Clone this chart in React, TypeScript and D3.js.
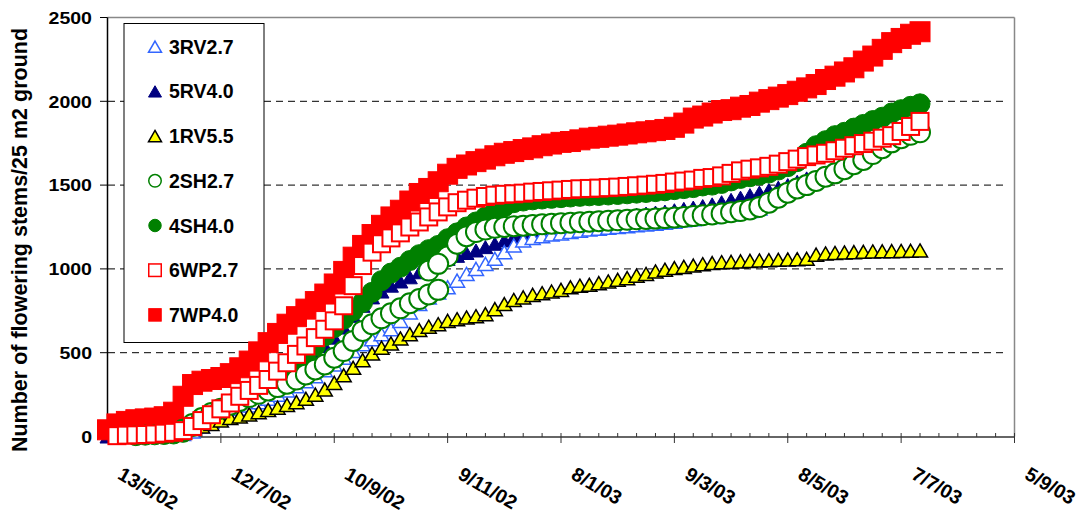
import React from 'react'
import * as d3 from 'd3'

// x axis: 13/5/02 .. 5/9/03, ticks every 60 days
const startDate = new Date(Date.UTC(2002, 4, 13))
const endDate = new Date(Date.UTC(2003, 8, 5))
const tickLabels = ['13/5/02', '12/7/02', '10/9/02', '9/11/02', '8/1/03', '9/3/03', '8/5/03', '7/7/03', '5/9/03']
const yTicks = [0, 500, 1000, 1500, 2000, 2500]

// sampling days (days after 13/5/02) for every series below
const sampleDays = d3.range(0, 431, 5)

const rv27 = [null, 0, 0, 2, 4, 6, 8, 10, 15, 30, 60, 90, 118, 142, 165, 185, 205, 225, 250, 275, 300, 330, 360, 395, 430, 470, 510, 550, 580, 610, 640, 690, 740, 790, 830, 860, 890, 930, 970, 1000, 1030, 1060, 1100, 1140, 1170, 1185, 1195, 1205, 1212, 1220, 1228, 1235, 1240, 1245, 1250, 1255, 1260, 1265, 1270, 1275, 1282, 1290, 1297, 1305, 1310, 1318, 1325, 1335, 1345, 1360]
const rv40 = [0, 0, 2, 4, 6, 8, 10, 14, 22, 50, 90, 125, 155, 180, 205, 230, 255, 285, 330, 375, 415, 455, 495, 540, 590, 650, 720, 780, 830, 865, 900, 925, 950, 980, 1015, 1040, 1060, 1078, 1095, 1110, 1130, 1150, 1170, 1190, 1210, 1228, 1242, 1255, 1265, 1275, 1285, 1293, 1300, 1307, 1313, 1318, 1324, 1330, 1336, 1342, 1350, 1358, 1366, 1375, 1385, 1398, 1412, 1425, 1440, 1455, 1470, 1485, 1500, 1520, 1540]
const rv55 = [null, null, null, null, null, null, null, null, null, 45, 60, 75, 95, 110, 120, 132, 145, 158, 172, 188, 205, 225, 250, 280, 320, 365, 410, 455, 495, 530, 555, 585, 610, 635, 655, 670, 690, 700, 710, 718, 730, 760, 790, 815, 830, 845, 855, 865, 875, 890, 900, 905, 915, 925, 935, 945, 960, 970, 985, 995, 1005, 1012, 1020, 1028, 1035, 1040, 1042, 1045, 1048, 1050, 1052, 1054, 1056, 1058, 1060, 1085, 1092, 1095, 1098, 1100, 1102, 1104, 1105, 1106, 1107, 1108, 1110]
const sh27 = [null, null, null, null, null, null, null, null, 40, 75, 110, 140, 165, 190, 212, 235, 255, 275, 295, 315, 340, 370, 400, 430, 470, 510, 570, 630, 670, 705, 735, 765, 795, 820, 848, 875, 1075, 1150, 1195, 1220, 1235, 1245, 1250, 1255, 1258, 1262, 1266, 1270, 1273, 1276, 1279, 1282, 1285, 1288, 1290, 1293, 1296, 1298, 1300, 1303, 1306, 1310, 1315, 1320, 1325, 1330, 1338, 1345, 1355, 1370, 1395, 1425, 1455, 1480, 1500, 1525, 1550, 1570, 1595, 1625, 1650, 1685, 1720, 1755, 1780, 1800, 1815]
// 2SH2.7 upper branch starts before the lower one ends
const sh27BranchDays = [170, 175]
const sh27Branch = [990, 1030]
const sh40 = [null, null, null, 5, 8, 10, 12, 15, 25, 60, 105, 140, 165, 190, 215, 240, 270, 300, 335, 380, 430, 480, 540, 600, 650, 700, 750, 800, 860, 930, 975, 1010, 1050, 1085, 1115, 1140, 1180, 1215, 1250, 1280, 1310, 1340, 1370, 1395, 1405, 1412, 1417, 1421, 1425, 1429, 1433, 1436, 1438, 1441, 1444, 1448, 1452, 1456, 1461, 1466, 1473, 1479, 1485, 1495, 1500, 1510, 1525, 1540, 1550, 1560, 1572, 1590, 1610, 1640, 1690, 1735, 1765, 1795, 1815, 1840, 1862, 1885, 1905, 1930, 1950, 1970, 1985]
const wp27 = [null, 5, 8, 10, 12, 15, 20, 25, 35, 60, 95, 130, 165, 200, 240, 275, 305, 340, 390, 440, 490, 540, 590, 640, 690, 780, 900, 1020, 1100, 1150, 1185, 1215, 1250, 1280, 1310, 1340, 1370, 1395, 1410, 1422, 1432, 1440, 1445, 1448, 1452, 1458, 1462, 1466, 1470, 1474, 1478, 1480, 1482, 1485, 1488, 1492, 1496, 1500, 1505, 1510, 1518, 1524, 1530, 1540, 1545, 1555, 1570, 1585, 1595, 1603, 1612, 1625, 1640, 1655, 1670, 1680, 1690, 1705, 1720, 1735, 1748, 1762, 1780, 1795, 1820, 1850, 1880]
const wp40 = [40, 75, 90, 100, 105, 110, 118, 145, 240, 310, 330, 340, 352, 375, 410, 450, 505, 560, 615, 670, 715, 760, 805, 850, 910, 985, 1070, 1140, 1205, 1260, 1310, 1350, 1405, 1450, 1480, 1520, 1565, 1600, 1620, 1640, 1655, 1675, 1690, 1700, 1712, 1722, 1735, 1745, 1755, 1760, 1770, 1780, 1785, 1792, 1798, 1805, 1812, 1818, 1825, 1832, 1845, 1870, 1900, 1912, 1930, 1945, 1950, 1965, 1975, 1995, 2010, 2025, 2040, 2060, 2080, 2100, 2130, 2150, 2175, 2200, 2240, 2270, 2310, 2350, 2375, 2400, 2415]

type Shape = 'triangle' | 'circle' | 'square'
type Series = { name: string; values: (number | null)[]; shape: Shape; fill: string; stroke: string; sw: number; size: number }

const legendSeries: Series[] = [
  { name: '3RV2.7', values: rv27, shape: 'triangle', fill: '#ffffff', stroke: '#3366ff', sw: 1.5, size: 15 },
  { name: '5RV4.0', values: rv40, shape: 'triangle', fill: '#000080', stroke: '#000080', sw: 1, size: 15 },
  { name: '1RV5.5', values: rv55, shape: 'triangle', fill: '#ffff00', stroke: '#000000', sw: 1.5, size: 15 },
  { name: '2SH2.7', values: sh27, shape: 'circle', fill: '#ffffff', stroke: '#008000', sw: 2, size: 20 },
  { name: '4SH4.0', values: sh40, shape: 'circle', fill: '#008000', stroke: '#008000', sw: 1, size: 20 },
  { name: '6WP2.7', values: wp27, shape: 'square', fill: '#ffffff', stroke: '#ff0000', sw: 2, size: 17 },
  { name: '7WP4.0', values: wp40, shape: 'square', fill: '#ff0000', stroke: '#ff0000', sw: 1, size: 20 },
]
const drawOrder = ['5RV4.0', '3RV2.7', '1RV5.5', '7WP4.0', '4SH4.0', '2SH2.7', '6WP2.7']

const W = 1083
const H = 518
const font = 'Liberation Sans, Arial, sans-serif'

function Marker({ s, x, y, size }: { s: Series; x: number; y: number; size: number }) {
  if (s.shape === 'circle') {
    return <circle cx={x} cy={y} r={size / 2} fill={s.fill} stroke={s.stroke} strokeWidth={s.sw} />
  }
  if (s.shape === 'square') {
    return <rect x={x - size / 2} y={y - size / 2} width={size} height={size} fill={s.fill} stroke={s.stroke} strokeWidth={s.sw} />
  }
  const h = size * 0.87
  return <path d={`M${x},${y - h / 2}L${x + size / 2},${y + h / 2}L${x - size / 2},${y + h / 2}Z`} fill={s.fill} stroke={s.stroke} strokeWidth={s.sw} strokeLinejoin="miter" />
}

export default function App() {
  const x = d3.scaleUtc().domain([startDate, endDate]).range([107.5, 1014.5])
  const y = d3.scaleLinear().domain([0, 2500]).range([436.5, 17.5])
  const dayX = (d: number) => x(d3.utcDay.offset(startDate, d))

  const majorTicks = tickLabels.map((_, i) => d3.utcDay.offset(startDate, i * 60))
  const minorTicks = d3.range(0, 481, 10).filter(d => d % 60 !== 0)

  const byName = (n: string) => legendSeries.find(s => s.name === n)!

  return (
    <svg width={W} height={H} style={{ position: 'absolute', left: 0, top: 0, background: '#fff' }} fontFamily={font}>
      <rect width={W} height={H} fill="#fff" />

      {/* gridlines and frame */}
      {yTicks.filter(t => t > 0 && t < 2500).map(t => (
        <line key={t} x1={108} x2={1008} y1={y(t)} y2={y(t)} stroke="#000" strokeWidth={1} strokeDasharray="7,5" />
      ))}
      <line x1={107.5} x2={1014.5} y1={y(2500)} y2={y(2500)} stroke="#888" strokeWidth={1.5} />
      <line x1={1014.5} x2={1014.5} y1={y(2500)} y2={y(0)} stroke="#888" strokeWidth={1.5} />

      {/* axes */}
      <line x1={107.5} x2={107.5} y1={y(2500)} y2={437} stroke="#000" strokeWidth={1.5} />
      <line x1={107.5} x2={1014.5} y1={437} y2={437} stroke="#333" strokeWidth={1.5} />
      {yTicks.map(t => (
        <g key={t}>
          <line x1={100} x2={107.5} y1={y(t)} y2={y(t)} stroke="#000" strokeWidth={1} />
          <text transform={`translate(92,${y(t) + 6.2}) scale(1.15,1)`} textAnchor="end" fontSize={17} fontWeight="bold">{t}</text>
        </g>
      ))}
      {minorTicks.map(d => (
        <line key={d} x1={dayX(d)} x2={dayX(d)} y1={433} y2={437} stroke="#333" strokeWidth={1} />
      ))}
      {majorTicks.map((d, i) => (
        <g key={i}>
          <line x1={x(d)} x2={x(d)} y1={433} y2={443} stroke="#333" strokeWidth={1} />
          <text transform={`translate(${x(d) + 9},478) rotate(30)`} fontSize={19.5} fontWeight="bold">{tickLabels[i]}</text>
        </g>
      ))}

      <text transform="translate(27,240) rotate(-90)" textAnchor="middle" fontSize={21.5} fontWeight="bold">Number of flowering stems/25 m2 ground</text>

      {/* legend */}
      <rect x={124} y={23.5} width={140} height={319} fill="#fff" stroke="#000" strokeWidth={1} />
      {legendSeries.map((s, i) => {
        const cy = 46.7 + i * 44.7
        return (
          <g key={s.name}>
            <Marker s={{ ...s, sw: Math.min(s.sw, 1.5) }} x={155} y={cy} size={s.shape === 'triangle' ? 13 : 12.5} />
            <text x={169} y={cy + 7} fontSize={19.5} fontWeight="bold">{s.name}</text>
          </g>
        )
      })}

      {/* series markers */}
      {drawOrder.map(n => {
        const s = byName(n)
        const pts: [number, number][] = []
        s.values.forEach((v, i) => { if (v != null) pts.push([sampleDays[i], v]) })
        if (n === '2SH2.7') sh27BranchDays.forEach((d, i) => pts.push([d, sh27Branch[i]]))
        return (
          <g key={n}>
            {pts.map(([d, v], i) => <Marker key={i} s={s} x={dayX(d)} y={y(v)} size={s.size} />)}
          </g>
        )
      })}
    </svg>
  )
}
